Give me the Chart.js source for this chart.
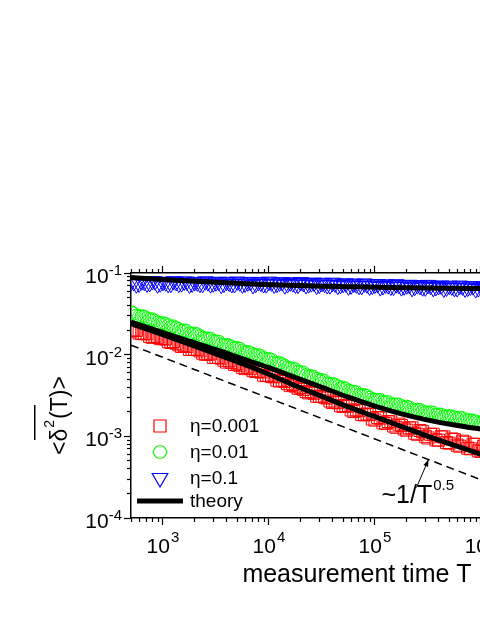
<!DOCTYPE html>
<html><head><meta charset="utf-8">
<script src="https://cdn.jsdelivr.net/npm/chart.js@4"></script>
<style>
html,body{margin:0;padding:0;background:#fff;overflow:hidden;}
#wrap{width:480px;height:621px;overflow:hidden;position:relative;background:#fff;}
canvas{display:block;}
</style></head><body>
<div id="wrap"><canvas id="c" width="640" height="621"></canvas></div>
<script>
// ---------- data ----------
const timeT = [501,562,631,708,794,891,
  1000,1122,1259,1413,1585,1778,1995,2239,2512,2818,3162,3548,3981,4467,5012,5623,6310,7079,7943,8913,
  10000,11220,12590,14130,15850,17780,19950,22390,25120,28180,31620,35480,39810,44670,50120,56230,63100,70790,79430,89130,
  100000,112200,125900,141300,158500,177800,199500,223900,251200,281800,316200,354800,398100,446700,501200,562300,631000,707900,794300,891300,
  1000000,1122000,1259000];
const timeTb = [531,596,668,750,841,944,
  1059,1189,1334,1496,1679,1884,2113,2371,2661,2985,3350,3758,4217,4732,5309,5957,6683,7499,8414,9441,
  10590,11890,13340,14960,16790,18840,21130,23710,26610,29850,33500,37580,42170,47320,53090,59570,66830,74990,84140,94410,
  105900,118900,133400,149600,167900,188400,211300,237100,266100,298500,335000,375800,421700,473200,530900,595700,668300,749900,841400,944100,
  1059000,1189000];

const eta0001 = [0.0195,0.0198,0.0181,0.0180,0.0163,0.0163,
  0.0158,0.0144,0.0145,0.0132,0.0129,0.0116,0.0116,0.0111,0.0101,0.0102,0.00923,0.00906,0.00811,0.00805,0.00773,0.00700,0.00703,0.00637,0.00625,0.00560,
  0.00556,0.00536,0.00476,0.00470,0.00418,0.00412,0.00397,0.00353,0.00348,0.00310,0.00309,0.00294,0.00259,0.00258,0.00232,0.00234,0.00201,0.00206,0.00183,0.00185,
  0.00158,0.00167,0.00144,0.00150,0.00129,0.00136,0.00119,0.00127,0.00106,0.00114,0.000955,0.00106,0.000897,0.000982,0.000824,0.000912,0.000757,0.000847,0.000703,0.000796,
  0.000653,0.000733,0.000617];
const eta0001b = [0.0201,0.0184,0.0181,0.0167,0.0168,0.0157,
  0.0155,0.0141,0.0138,0.0126,0.0126,0.0116,0.0115,0.0104,0.0102,0.00927,0.00926,0.00854,0.00840,0.00761,0.00742,0.00675,0.00674,0.00622,0.00612,0.00554,
  0.00538,0.00486,0.00482,0.00442,0.00432,0.00388,0.00376,0.00340,0.00337,0.00308,0.00301,0.00271,0.00262,0.00237,0.00239,0.00210,0.00210,0.00185,0.00188,0.00163,
  0.00170,0.00146,0.00152,0.00134,0.00141,0.00123,0.00127,0.00109,0.00118,0.00100,0.00106,0.000904,0.000989,0.000840,0.000929,0.000780,0.000873,0.000716,0.000802,0.000665,
  0.000754,0.000627];

const eta001 = [0.0331,0.0301,0.0296,0.0279,0.0271,0.0247,
  0.0243,0.0228,0.0222,0.0204,0.0198,0.0182,0.0181,0.0168,0.0158,0.0156,0.0145,0.0134,0.0132,0.0124,0.0121,0.0110,0.0108,0.0101,0.00986,0.00906,
  0.00881,0.00802,0.00791,0.00728,0.00678,0.00661,0.00608,0.00560,0.00546,0.00508,0.00490,0.00444,0.00436,0.00408,0.00396,0.00363,0.00352,0.00323,0.00321,0.00297,
  0.00279,0.00278,0.00262,0.00247,0.00246,0.00234,0.00231,0.00213,0.00212,0.00202,0.00193,0.00194,0.00185,0.00175,0.00177,0.00170,0.00169,0.00157,0.00158,0.00152,
  0.00146,0.00149,0.00142];
const eta001b = [0.0319,0.0295,0.0292,0.0269,0.0262,0.0240,
  0.0238,0.0219,0.0213,0.0196,0.0195,0.0180,0.0177,0.0161,0.0158,0.0147,0.0144,0.0131,0.0129,0.0120,0.0118,0.0107,0.0105,0.00975,0.00957,0.00883,
  0.00865,0.00785,0.00759,0.00693,0.00675,0.00619,0.00604,0.00546,0.00530,0.00486,0.00475,0.00437,0.00429,0.00390,0.00382,0.00353,0.00346,0.00318,0.00312,0.00284,
  0.00280,0.00263,0.00262,0.00245,0.00244,0.00226,0.00224,0.00211,0.00210,0.00196,0.00197,0.00184,0.00184,0.00175,0.00175,0.00166,0.00167,0.00156,0.00156,0.00148,
  0.00149,0.00142];

const eta01 = [0.0781,0.0729,0.0790,0.0746,0.0797,0.0727,
  0.0779,0.0735,0.0795,0.0742,0.0786,0.0723,0.0775,0.0740,0.0792,0.0730,0.0771,0.0720,0.0779,0.0735,0.0786,0.0725,0.0768,0.0715,0.0775,0.0732,
  0.0784,0.0722,0.0763,0.0710,0.0768,0.0723,0.0774,0.0712,0.0752,0.0701,0.0758,0.0712,0.0761,0.0699,0.0738,0.0686,0.0742,0.0698,0.0746,0.0685,
  0.0723,0.0672,0.0727,0.0683,0.0730,0.0671,0.0708,0.0658,0.0712,0.0669,0.0715,0.0658,0.0694,0.0646,0.0699,0.0658,0.0702,0.0646,0.0683,0.0635,
  0.0686,0.0646,0.0691];
const eta01b = [0.0773,0.0743,0.0782,0.0756,0.0791,0.0749,
  0.0771,0.0740,0.0777,0.0752,0.0786,0.0744,0.0767,0.0737,0.0773,0.0748,0.0781,0.0740,0.0763,0.0733,0.0770,0.0744,0.0778,0.0737,0.0760,0.0730,
  0.0767,0.0740,0.0772,0.0732,0.0752,0.0721,0.0756,0.0730,0.0762,0.0721,0.0741,0.0709,0.0744,0.0716,0.0747,0.0706,0.0726,0.0695,0.0728,0.0701,
  0.0732,0.0692,0.0710,0.0681,0.0714,0.0687,0.0717,0.0679,0.0696,0.0667,0.0699,0.0674,0.0703,0.0665,0.0683,0.0655,0.0686,0.0662,0.0690,0.0653,
  0.0671,0.0644];

const theoryT = [501,1000,1778,3162,5623,10000,17780,31620,56230,100000,177800,316200,562300,1000000,3162000,10000000];
const theory0001 = [0.0240,0.0176,0.0135,0.0102,0.00776,0.00575,0.00417,0.00309,0.00229,0.00174,0.00132,0.00100,0.000776,0.000603,0.000363,0.000219];
const theory001  = [0.0251,0.0186,0.0146,0.0115,0.00891,0.00692,0.00525,0.00398,0.00302,0.00234,0.00188,0.00158,0.00138,0.00123,0.00105,0.00095];
const theory01   = [0.088,0.083,0.080,0.077,0.0743,0.072,0.0704,0.069,0.068,0.067,0.0662,0.0655,0.065,0.0645,0.0638,0.0633];

const guideT = [500, 10000000];
const guideVals = [0.0131, 0.000093];

const legendLabels = ['η=0.001','η=0.01','η=0.1','theory'];
const xMajorTicks = [1e3,1e4,1e5,1e6,1e7];
const xTickExponents = ['3','4','5','6','7'];
const yMajorTicks = [1e-4,1e-3,1e-2,1e-1];
const yTickExponents = ['-4','-3','-2','-1'];
const xTitle = 'measurement time T';
const yTitleParts = ['<δ','2','(T)>'];
const annotation = {T: 320000, v: 0.00052, text: '~1/T', sup: '0.5'};

const X_MIN = 500, X_MAX = 1e7, Y_MIN = 1e-4, Y_MAX = 1e-1;

// ---------- helpers ----------
function minorTicks(min, max){
  const out = [];
  for (let e = Math.floor(Math.log10(min)); e <= Math.ceil(Math.log10(max)); e++){
    for (let m = 2; m <= 9; m++){
      const v = m * Math.pow(10, e);
      if (v >= min * 0.999 && v <= max * 1.001) out.push(v);
    }
  }
  return out;
}
const toXY = (xs, ys) => xs.map((x, i) => ({x, y: ys[i]}));
const FONT = '"Liberation Sans", Arial, Helvetica, sans-serif';

function axisScale(axis, pos, major){
  const isX = axis === 'x';
  const min = isX ? X_MIN : Y_MIN, max = isX ? X_MAX : Y_MAX;
  const list = major ? (isX ? xMajorTicks : yMajorTicks) : minorTicks(min, max);
  return {
    type: 'logarithmic', axis, position: pos, min, max,
    grid: {display: true, drawOnChartArea: false, drawTicks: true,
           tickLength: major ? 7 : 4, tickWidth: 1.2, tickColor: '#000', color: '#000'},
    border: {display: major, color: '#000', width: 1.5},
    ticks: {display: false},
    afterBuildTicks(s){ s.ticks = list.map(v => ({value: v})); },
    afterFit(s){ if (isX) s.height = 0; else s.width = 0; }
  };
}

// ---------- datasets ----------
const markerBase = {showLine: false, pointBackgroundColor: 'rgba(0,0,0,0)', pointBorderWidth: 1, clip: 0};
const datasets = [
  {label: 'theory 0.1', data: toXY(theoryT, theory01), showLine: true, borderColor: '#000', borderWidth: 5,
   pointRadius: 0, cubicInterpolationMode: 'monotone', order: 1, clip: 0},
  {label: 'theory 0.01', data: toXY(theoryT, theory001), showLine: true, borderColor: '#000', borderWidth: 5,
   pointRadius: 0, cubicInterpolationMode: 'monotone', order: 1, clip: 0},
  {label: 'theory 0.001', data: toXY(theoryT, theory0001), showLine: true, borderColor: '#000', borderWidth: 5,
   pointRadius: 0, cubicInterpolationMode: 'monotone', order: 1, clip: 0},
  {label: 'guide', data: toXY(guideT, guideVals), showLine: true, borderColor: '#000', borderWidth: 1.5,
   borderDash: [8, 5], pointRadius: 0, order: 2, clip: 0},
  Object.assign({label: legendLabels[0], data: toXY(timeT, eta0001).concat(toXY(timeTb, eta0001b)),
   pointStyle: 'rect', pointRadius: 8.5, pointBorderColor: '#ff0000', order: 5}, markerBase),
  Object.assign({label: legendLabels[1], data: toXY(timeT, eta001).concat(toXY(timeTb, eta001b)),
   pointStyle: 'circle', pointRadius: 6.5, pointBorderColor: '#00ff00', order: 4}, markerBase),
  Object.assign({label: legendLabels[2], data: toXY(timeT, eta01).concat(toXY(timeTb, eta01b)),
   pointStyle: 'triangle', pointRotation: 180, pointRadius: 9, pointBorderColor: '#0000ff', order: 3}, markerBase)
];

// ---------- text / legend plugin ----------
const textPlugin = {
  id: 'texts',
  afterDraw(chart){
    const {ctx, chartArea: a, scales} = chart;
    const xs = scales.x, ys = scales.y;
    ctx.save();
    ctx.fillStyle = '#000';
    ctx.strokeStyle = '#000';
    ctx.textBaseline = 'alphabetic';
    ctx.textAlign = 'left';

    // x tick labels
    xMajorTicks.forEach((v, i) => {
      const px = xs.getPixelForValue(v);
      ctx.font = '21px ' + FONT; const w1 = ctx.measureText('10').width;
      ctx.font = '15px ' + FONT; const w2 = ctx.measureText(xTickExponents[i]).width;
      const x0 = px - (w1 + w2 + 1) / 2;
      ctx.font = '21px ' + FONT; ctx.fillText('10', x0, a.bottom + 35);
      ctx.font = '15px ' + FONT; ctx.fillText(xTickExponents[i], x0 + w1 + 1, a.bottom + 24);
    });

    // y tick labels
    yMajorTicks.forEach((v, i) => {
      const py = ys.getPixelForValue(v);
      const right = a.left - 9;
      ctx.font = '15px ' + FONT; const w2 = ctx.measureText(yTickExponents[i]).width;
      ctx.font = '21px ' + FONT; const w1 = ctx.measureText('10').width;
      ctx.fillText('10', right - w2 - w1, py + 10);
      ctx.font = '15px ' + FONT; ctx.fillText(yTickExponents[i], right - w2, py + 2);
    });

    // x title
    ctx.font = '25px ' + FONT;
    ctx.textAlign = 'center';
    ctx.fillText(xTitle, (a.left + a.right) / 2 - 2, a.bottom + 64);
    ctx.textAlign = 'left';

    // y title (rotated)
    ctx.save();
    ctx.translate(a.left - 64, a.bottom - 63);
    ctx.rotate(-Math.PI / 2);
    ctx.font = '23px ' + FONT;
    ctx.fillText(yTitleParts[0], 0, 0);
    let w = ctx.measureText(yTitleParts[0]).width + 1;
    ctx.font = '14px ' + FONT;
    ctx.fillText(yTitleParts[1], w, -13);
    w += ctx.measureText(yTitleParts[1]).width + 1;
    ctx.font = '23px ' + FONT;
    ctx.fillText(yTitleParts[2], w, 0);
    ctx.fillRect(15, -33, 35, 1.5);
    ctx.restore();

    // annotation arrow + text
    const tipX = xs.getPixelForValue(annotation.T), tipY = ys.getPixelForValue(annotation.v);
    const tailX = tipX - 12, tailY = tipY + 28;
    ctx.lineWidth = 1;
    ctx.beginPath(); ctx.moveTo(tailX, tailY); ctx.lineTo(tipX, tipY); ctx.stroke();
    const ang = Math.atan2(tipY - tailY, tipX - tailX);
    ctx.beginPath();
    ctx.moveTo(tipX, tipY);
    ctx.lineTo(tipX - 7 * Math.cos(ang) + 2.5 * Math.sin(ang), tipY - 7 * Math.sin(ang) - 2.5 * Math.cos(ang));
    ctx.lineTo(tipX - 7 * Math.cos(ang) - 2.5 * Math.sin(ang), tipY - 7 * Math.sin(ang) + 2.5 * Math.cos(ang));
    ctx.closePath(); ctx.fill();
    ctx.font = '25px ' + FONT;
    ctx.fillText(annotation.text, tipX - 47, tipY + 43);
    const tw = ctx.measureText(annotation.text).width;
    ctx.font = '15px ' + FONT;
    ctx.fillText(annotation.sup, tipX - 47 + tw + 1, tipY + 30);

    // legend
    const rows = [a.bottom - 92, a.bottom - 66, a.bottom - 40, a.bottom - 17];
    const mx = a.left + 29, tx = a.left + 59;
    const dsets = chart.data.datasets;
    [4, 5, 6].forEach((di, k) => {
      const d = dsets[di];
      ctx.save();
      ctx.strokeStyle = d.pointBorderColor;
      ctx.fillStyle = 'rgba(0,0,0,0)';
      ctx.lineWidth = 1.2;
      Chart.helpers.drawPoint(ctx, {pointStyle: d.pointStyle, radius: d.pointRadius,
        rotation: d.pointRotation || 0, borderWidth: 1.2}, mx, rows[k]);
      ctx.restore();
    });
    ctx.lineWidth = 5;
    ctx.beginPath(); ctx.moveTo(a.left + 6, rows[3]); ctx.lineTo(a.left + 52, rows[3]); ctx.stroke();
    ctx.font = '19px ' + FONT;
    ctx.textBaseline = 'middle';
    legendLabels.forEach((t, k) => ctx.fillText(t, tx, rows[k] + 1));
    ctx.restore();
  }
};

new Chart(document.getElementById('c'), {
  type: 'scatter',
  data: {datasets},
  options: {
    responsive: false, animation: false, events: [], devicePixelRatio: 1,
    layout: {padding: {left: 131, top: 273, right: 53, bottom: 103}},
    plugins: {legend: {display: false}, tooltip: {enabled: false}},
    scales: {
      x: axisScale('x', 'bottom', true),
      xMinor: axisScale('x', 'bottom', false),
      xTop: axisScale('x', 'top', true),
      xTopMinor: axisScale('x', 'top', false),
      y: axisScale('y', 'left', true),
      yMinor: axisScale('y', 'left', false),
      yRight: axisScale('y', 'right', true),
      yRightMinor: axisScale('y', 'right', false)
    }
  },
  plugins: [textPlugin]
});
</script>
</body></html>
